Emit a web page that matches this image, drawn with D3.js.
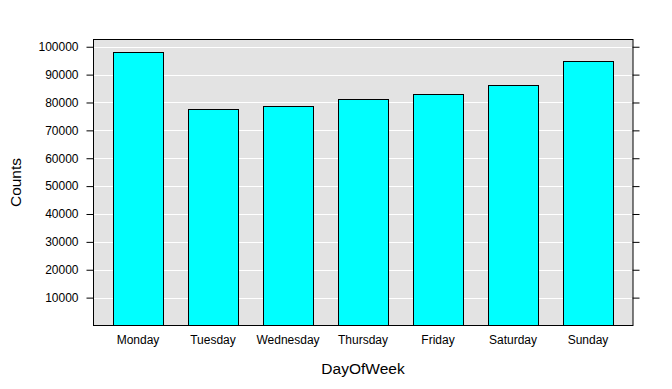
<!DOCTYPE html>
<html>
<head>
<meta charset="utf-8">
<script src="https://cdn.jsdelivr.net/npm/d3@7"></script>
<style>
  body { margin: 0; background: #fff; }
  text { font-family: "Liberation Sans", Arial, sans-serif; fill: #000; }
</style>
</head>
<body>
<svg id="chart" width="672" height="389"></svg>
<script>
// data
var days = ['Monday', 'Tuesday', 'Wednesday', 'Thursday', 'Friday', 'Saturday', 'Sunday']
var counts = [98200, 77700, 78800, 81300, 83100, 86300, 94900]
var yTicks = [10000, 20000, 30000, 40000, 50000, 60000, 70000, 80000, 90000, 100000]

var svg = d3.select('#chart')
// panel edges (window.top is taken, so prefixed names)
var pLeft = 93, pRight = 633, pTop = 39.5, pBottom = 325.5

var x = d3.scaleBand().domain(days).range([pLeft, pRight])
  .paddingInner(1 / 3).paddingOuter(0.2667)
var y = d3.scaleLinear().domain([0, 102600]).range([pBottom, pTop])

// panel background
svg.append('rect')
  .attr('x', pLeft).attr('y', pTop)
  .attr('width', pRight - pLeft).attr('height', pBottom - pTop)
  .attr('fill', '#e3e3e3')

// white grid lines at each tick
svg.append('g').selectAll('line')
  .data(yTicks)
  .enter().append('line')
  .attr('x1', pLeft).attr('x2', pRight)
  .attr('y1', function (d) { return Math.round(y(d)) + 0.5 })
  .attr('y2', function (d) { return Math.round(y(d)) + 0.5 })
  .attr('stroke', '#fff').attr('stroke-width', 1)

// bars
svg.append('g').selectAll('rect')
  .data(counts)
  .enter().append('rect')
  .attr('x', function (d, i) { return Math.round(x(days[i])) + 0.5 })
  .attr('y', function (d) { return Math.round(y(d)) + 0.5 })
  .attr('width', x.bandwidth())
  .attr('height', function (d) { return pBottom - Math.round(y(d)) - 0.5 })
  .attr('fill', '#00ffff').attr('stroke', '#000').attr('stroke-width', 1)

// frame
svg.append('rect')
  .attr('x', pLeft + 0.5).attr('y', pTop)
  .attr('width', pRight - pLeft - 0.5).attr('height', pBottom - pTop)
  .attr('fill', 'none').attr('stroke', '#000').attr('stroke-width', 1)

// left axis
var yLeft = d3.axisLeft(y).tickValues(yTicks).tickSize(7).tickPadding(8).tickFormat(d3.format('d'))
var gl = svg.append('g').attr('transform', 'translate(' + (pLeft + 0.5) + ',0)').call(yLeft)
gl.select('.domain').remove()
gl.selectAll('text').style('font-size', '12px').attr('fill', '#000')

// right axis, ticks only
var yRight = d3.axisRight(y).tickValues(yTicks).tickSize(7).tickFormat('')
var gr = svg.append('g').attr('transform', 'translate(' + (pRight - 0.5) + ',0)').call(yRight)
gr.select('.domain').remove()

// bottom labels, no tick marks
var xAxis = d3.axisBottom(x).tickSize(0).tickPadding(10)
var gx = svg.append('g').attr('transform', 'translate(0,' + pBottom + ')').call(xAxis)
gx.select('.domain').remove()
gx.selectAll('text').style('font-size', '12px').attr('fill', '#000')

// axis titles
svg.append('text')
  .attr('x', (pLeft + pRight) / 2).attr('y', 374)
  .attr('text-anchor', 'middle')
  .style('font-size', '15.5px')
  .text('DayOfWeek')

svg.append('text')
  .attr('transform', 'translate(21,' + ((pTop + pBottom) / 2) + ') rotate(-90)')
  .attr('text-anchor', 'middle')
  .style('font-size', '15.5px')
  .text('Counts')
</script>
</body>
</html>
